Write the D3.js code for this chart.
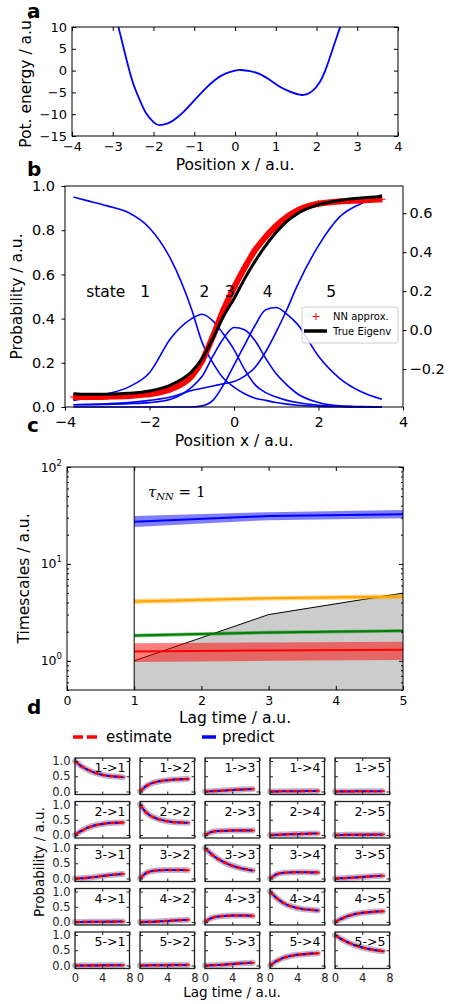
<!DOCTYPE html>
<html>
<head>
<meta charset="utf-8">
<script src="https://cdn.jsdelivr.net/npm/d3@7"></script>
<style>
  body { margin: 0; background: #fff; }
  svg { display: block; }
</style>
</head>
<body>
<div id="fig"></div>
<script>
// ---------- panel a: potential energy ----------
const potX = [-2.86, -2.66, -2.5, -2.34, -2.18, -2.0, -1.85, -1.65, -1.5, -1.25, -1.0, -0.75, -0.5, -0.25, 0.0, 0.15, 0.37, 0.61, 0.86, 1.10, 1.35, 1.64, 1.88, 2.09, 2.25, 2.41, 2.58];
const potE = [10, 2.43, -2.9, -6.7, -9.8, -11.8, -12.5, -12.1, -11.35, -9.35, -6.85, -4.35, -2.2, -0.75, 0.0, 0.14, -0.12, -0.8, -2.16, -3.7, -4.83, -5.6, -4.83, -2.5, 0.9, 5.3, 10];

// ---------- panel b: memberships and eigenvector ----------
const posX   = [-3.8, -3.5, -3, -2.5, -2, -1.5, -1, -0.75, -0.5, -0.25, 0, 0.25, 0.5, 0.75, 1, 1.25, 1.5, 2, 2.5, 3, 3.5];
const state1 = [0.95, 0.935, 0.91, 0.88, 0.81, 0.67, 0.44, 0.29, 0.20, 0.13, 0.09, 0.06, 0.04, 0.03, 0.02, 0.013, 0.008, 0.003, 0.001, 0, 0];
const state2 = [0.03, 0.04, 0.06, 0.09, 0.155, 0.31, 0.40, 0.42, 0.39, 0.33, 0.26, 0.17, 0.10, 0.065, 0.045, 0.03, 0.02, 0.008, 0.003, 0.001, 0];
const state3 = [0.01, 0.01, 0.012, 0.015, 0.02, 0.035, 0.09, 0.14, 0.23, 0.31, 0.36, 0.35, 0.30, 0.22, 0.15, 0.10, 0.06, 0.02, 0.005, 0.002, 0];
const state4 = [0, 0, 0, 0, 0, 0, 0, 0.005, 0.03, 0.10, 0.19, 0.28, 0.37, 0.44, 0.45, 0.42, 0.375, 0.23, 0.13, 0.07, 0.035];
const state5 = [0.01, 0.012, 0.015, 0.02, 0.03, 0.045, 0.075, 0.085, 0.095, 0.105, 0.115, 0.14, 0.18, 0.25, 0.34, 0.44, 0.55, 0.73, 0.86, 0.92, 0.96];
const stateNames  = ['1', '2', '3', '4', '5'];
const stateLabelX = [-2.1, -0.7, -0.1, 0.8, 2.3];
// eigenvector values on the right axis
const eigTrue = [-0.327, -0.330, -0.329, -0.325, -0.313, -0.282, -0.213, -0.145, -0.043, 0.070, 0.161, 0.263, 0.354, 0.434, 0.502, 0.558, 0.598, 0.644, 0.666, 0.678, 0.686];
const eigNN   = [-0.344, -0.344, -0.342, -0.338, -0.329, -0.304, -0.236, -0.157, -0.032, 0.104, 0.218, 0.320, 0.411, 0.479, 0.536, 0.581, 0.615, 0.649, 0.661, 0.666, 0.672];

// ---------- panel c: implied timescales ----------
const lagTimes = [1, 3, 5];
const lagLine  = [1, 3, 5];
const nnLag = 1;
const tsBlue   = [27.3, 31.2, 32.5], tsBlueLo   = [24.1, 28.3, 29.6], tsBlueHi   = [31.2, 34.2, 36.0];
const tsOrange = [4.09, 4.43, 4.60], tsOrangeLo = [3.85, 4.20, 4.35], tsOrangeHi = [4.35, 4.65, 4.85];
const tsGreen  = [1.82, 1.96, 2.04], tsGreenLo  = [1.74, 1.88, 1.96], tsGreenHi  = [1.90, 2.04, 2.12];
const tsRed    = [1.25, 1.28, 1.30], tsRedLo    = [0.97, 1.00, 1.02], tsRedHi    = [1.52, 1.55, 1.57];

// ---------- panel d: Chapman-Kolmogorov test ----------
const ckLag = [0, 1, 2, 3, 4, 5, 6, 7];
const ckFrom1 = [
  [1.0, 0.82, 0.70, 0.61, 0.55, 0.51, 0.49, 0.47],
  [0, 0.19, 0.29, 0.34, 0.37, 0.39, 0.40, 0.41],
  [0, 0.01, 0.02, 0.035, 0.05, 0.06, 0.07, 0.08],
  [0, 0.002, 0.005, 0.008, 0.01, 0.012, 0.015, 0.018],
  [0, 0.001, 0.002, 0.003, 0.005, 0.006, 0.008, 0.01]
];
const ckFrom2 = [
  [0, 0.14, 0.25, 0.32, 0.36, 0.39, 0.40, 0.41],
  [1.0, 0.72, 0.58, 0.50, 0.45, 0.42, 0.41, 0.40],
  [0, 0.10, 0.13, 0.14, 0.145, 0.15, 0.15, 0.15],
  [0, 0.005, 0.015, 0.025, 0.03, 0.04, 0.045, 0.05],
  [0, 0.002, 0.005, 0.008, 0.01, 0.01, 0.012, 0.012]
];
const ckFrom3 = [
  [0, 0.005, 0.025, 0.05, 0.08, 0.11, 0.13, 0.15],
  [0, 0.19, 0.25, 0.27, 0.28, 0.28, 0.28, 0.27],
  [1.0, 0.79, 0.63, 0.51, 0.42, 0.35, 0.30, 0.26],
  [0, 0.14, 0.19, 0.20, 0.205, 0.205, 0.20, 0.20],
  [0, 0.005, 0.02, 0.035, 0.05, 0.065, 0.08, 0.09]
];
const ckFrom4 = [
  [0, 0.001, 0.003, 0.005, 0.008, 0.01, 0.012, 0.015],
  [0, 0.003, 0.01, 0.02, 0.035, 0.05, 0.06, 0.07],
  [0, 0.13, 0.18, 0.20, 0.21, 0.21, 0.21, 0.20],
  [1.0, 0.78, 0.62, 0.52, 0.46, 0.42, 0.40, 0.38],
  [0, 0.11, 0.20, 0.26, 0.30, 0.32, 0.34, 0.35]
];
const ckFrom5 = [
  [0, 0, 0.001, 0.002, 0.003, 0.004, 0.005, 0.006],
  [0, 0.002, 0.005, 0.008, 0.01, 0.013, 0.015, 0.018],
  [0, 0.005, 0.015, 0.03, 0.05, 0.065, 0.08, 0.09],
  [0, 0.15, 0.25, 0.31, 0.35, 0.37, 0.39, 0.40],
  [1.0, 0.86, 0.75, 0.66, 0.59, 0.54, 0.50, 0.47]
];
const ckErr = [
  [0.02, 0.04, 0.02, 0.01, 0.03],
  [0.04, 0.02, 0.01, 0.01, 0.01],
  [0.03, 0.02, 0.01, 0.01, 0.01],
  [0.01, 0.01, 0.01, 0.03, 0.04],
  [0.02, 0.01, 0.01, 0.04, 0.04]
];

// ====================================================================
const FONT = 'DejaVu Sans';
const svg = d3.select('#fig').append('svg')
  .attr('width', 451)
  .attr('height', 1004)
  .attr('font-family', FONT);

function fixAxis(sel, size, color) {
  sel.attr('font-size', size).attr('font-family', FONT);
  sel.select('.domain').remove();
  sel.selectAll('text').attr('fill', color || '#000');
  sel.selectAll('line').attr('stroke', color || '#000');
}

function panelLabel(txt, x, y) {
  svg.append('text').attr('x', x).attr('y', y)
    .attr('font-size', 20).attr('font-weight', 'bold').text(txt);
}

function yLabel(txt, x, y, size) {
  svg.append('text')
    .attr('transform', `translate(${x},${y}) rotate(-90)`)
    .attr('text-anchor', 'middle').attr('font-size', size).text(txt);
}

function xLabel(txt, x, y, size) {
  svg.append('text').attr('x', x).attr('y', y)
    .attr('text-anchor', 'middle').attr('font-size', size).text(txt);
}

// ---------------- panel a ----------------
const aBox = { x: 72, y: 27, w: 326, h: 109 };
const ga = svg.append('g').attr('transform', `translate(${aBox.x},${aBox.y})`);
const ax = d3.scaleLinear().domain([-4, 4]).range([0, aBox.w]);
const ay = d3.scaleLinear().domain([-15, 10]).range([aBox.h, 0]);

ga.append('clipPath').attr('id', 'clipA')
  .append('rect').attr('width', aBox.w).attr('height', aBox.h);

ga.append('path')
  .datum(potX.map((x, i) => [x, potE[i]]))
  .attr('clip-path', 'url(#clipA)')
  .attr('fill', 'none')
  .attr('stroke', '#0000ff')
  .attr('stroke-width', 1.8)
  .attr('d', d3.line().x(d => ax(d[0])).y(d => ay(d[1])).curve(d3.curveNatural));

ga.append('g').attr('transform', `translate(0,${aBox.h})`)
  .call(d3.axisBottom(ax).ticks(8).tickSize(-4).tickPadding(6))
  .call(g => fixAxis(g, 13));
ga.append('g')
  .call(d3.axisTop(ax).ticks(8).tickSize(-4).tickFormat(''))
  .call(g => fixAxis(g, 13));
ga.append('g')
  .call(d3.axisLeft(ay).tickValues([-15, -10, -5, 0, 5, 10]).tickSize(-4).tickPadding(5))
  .call(g => fixAxis(g, 13));
ga.append('g').attr('transform', `translate(${aBox.w},0)`)
  .call(d3.axisRight(ay).tickValues([-15, -10, -5, 0, 5, 10]).tickSize(-4).tickFormat(''))
  .call(g => fixAxis(g, 13));
ga.append('rect').attr('width', aBox.w).attr('height', aBox.h)
  .attr('fill', 'none').attr('stroke', '#000').attr('stroke-width', 1);

yLabel('Pot. energy / a.u.', 31, 81.5, 15.5);
xLabel('Position x / a.u.', 235, 170, 15.5);

// ---------------- panel b ----------------
const bBox = { x: 65, y: 186, w: 338, h: 221 };
const gb = svg.append('g').attr('transform', `translate(${bBox.x},${bBox.y})`);
const bx = d3.scaleLinear().domain([-4, 4]).range([0, bBox.w]);
const by = d3.scaleLinear().domain([0, 1]).range([bBox.h, 0]);
const by2 = d3.scaleLinear().domain([-0.395, 0.74]).range([bBox.h, 0]);

const memberLine = d3.line().x(d => bx(d[0])).y(d => by(d[1])).curve(d3.curveMonotoneX);
[state1, state2, state3, state4, state5].forEach(s => {
  gb.append('path')
    .datum(posX.map((x, i) => [x, s[i]]))
    .attr('fill', 'none')
    .attr('stroke', '#0000ff')
    .attr('stroke-width', 1.6)
    .attr('d', memberLine);
});

const eigLine = d3.line().x(d => bx(d[0])).y(d => by2(d[1])).curve(d3.curveMonotoneX);
gb.append('path')
  .datum(posX.map((x, i) => [x, eigNN[i]]))
  .attr('fill', 'none').attr('stroke', '#ff0000').attr('stroke-width', 6)
  .attr('d', eigLine);
gb.selectAll('.nn').data(posX.map((x, i) => [x, eigNN[i]])).enter()
  .append('path')
  .attr('transform', d => `translate(${bx(d[0])},${by2(d[1])})`)
  .attr('d', 'M-3.5,0H3.5M0,-3.5V3.5')
  .attr('stroke', '#ff0000').attr('stroke-width', 1);
gb.append('path')
  .datum(posX.map((x, i) => [x, eigTrue[i]]))
  .attr('fill', 'none').attr('stroke', '#000').attr('stroke-width', 3)
  .attr('d', eigLine);

gb.append('text').attr('x', bx(-3.5)).attr('y', by(0.5))
  .attr('font-size', 15.5).text('state');
gb.selectAll('.sname').data(stateNames).enter()
  .append('text')
  .attr('x', (d, i) => bx(stateLabelX[i]))
  .attr('y', by(0.5))
  .attr('text-anchor', 'middle')
  .attr('font-size', 15.5)
  .text(d => d);

gb.append('g').attr('transform', `translate(0,${bBox.h})`)
  .call(d3.axisBottom(bx).tickValues([-4, -2, 0, 2, 4]).tickSize(3.5).tickPadding(6))
  .call(g => fixAxis(g, 14.5));
gb.append('g')
  .call(d3.axisLeft(by).tickValues([0, 0.2, 0.4, 0.6, 0.8, 1.0]).tickFormat(d3.format('.1f')).tickSize(3.5).tickPadding(6.5))
  .call(g => fixAxis(g, 14.5));
gb.append('g').attr('transform', `translate(${bBox.w},0)`)
  .call(d3.axisRight(by2).tickValues([-0.2, 0, 0.2, 0.4, 0.6]).tickFormat(d3.format('.1f')).tickSize(3.5).tickPadding(3))
  .call(g => fixAxis(g, 14.5));
gb.append('rect').attr('width', bBox.w).attr('height', bBox.h)
  .attr('fill', 'none').attr('stroke', '#000').attr('stroke-width', 1);

// legend b
const lg = gb.append('g').attr('transform', `translate(${302 - bBox.x},${307 - bBox.y})`);
lg.append('rect').attr('width', 96).attr('height', 36).attr('rx', 2)
  .attr('fill', '#fff').attr('fill-opacity', 0.85).attr('stroke', '#ccc');
lg.append('path').attr('d', 'M10.5,9.5h7M14,6v7').attr('stroke', '#ff0000').attr('stroke-width', 1);
lg.append('text').attr('x', 31).attr('y', 13).attr('font-size', 10).text('NN approx.');
lg.append('line').attr('x1', 2).attr('x2', 25).attr('y1', 24).attr('y2', 24)
  .attr('stroke', '#000').attr('stroke-width', 3.5);
lg.append('text').attr('x', 31).attr('y', 28).attr('font-size', 10).text('True Eigenv');

yLabel('Probability / a.u.', 22, 296.5, 15.5);
xLabel('Position x / a.u.', 234, 446, 15.5);

// ---------------- panel c ----------------
const cBox = { x: 67, y: 467, w: 336, h: 223 };
const gc = svg.append('g').attr('transform', `translate(${cBox.x},${cBox.y})`);
const cx = d3.scaleLinear().domain([0, 5]).range([0, cBox.w]);
const cy = d3.scaleLog().domain([0.5, 100]).range([cBox.h, 0]);

gc.append('path')
  .datum(lagTimes.map((t, i) => [t, lagLine[i]]))
  .attr('fill', '#cccccc')
  .attr('d', d3.area().x(d => cx(d[0])).y0(cBox.h).y1(d => cy(d[1])));
gc.append('path')
  .datum(lagTimes.map((t, i) => [t, lagLine[i]]))
  .attr('fill', 'none').attr('stroke', '#000').attr('stroke-width', 1)
  .attr('d', d3.line().x(d => cx(d[0])).y(d => cy(d[1])));

const tsSets = [
  { v: tsRed, lo: tsRedLo, hi: tsRedHi, c: '#ff0000' },
  { v: tsGreen, lo: tsGreenLo, hi: tsGreenHi, c: '#008000' },
  { v: tsOrange, lo: tsOrangeLo, hi: tsOrangeHi, c: '#ffa500' },
  { v: tsBlue, lo: tsBlueLo, hi: tsBlueHi, c: '#0000ff' }
];
tsSets.forEach(s => {
  gc.append('path')
    .datum(lagTimes.map((t, i) => [t, s.lo[i], s.hi[i]]))
    .attr('fill', s.c).attr('fill-opacity', 0.5)
    .attr('d', d3.area().x(d => cx(d[0])).y0(d => cy(d[1])).y1(d => cy(d[2])));
  gc.append('path')
    .datum(lagTimes.map((t, i) => [t, s.v[i]]))
    .attr('fill', 'none').attr('stroke', s.c).attr('stroke-width', 2)
    .attr('d', d3.line().x(d => cx(d[0])).y(d => cy(d[1])));
});

gc.append('line').attr('x1', cx(nnLag)).attr('x2', cx(nnLag))
  .attr('y1', 0).attr('y2', cBox.h).attr('stroke', '#000').attr('stroke-width', 1);

const tau = gc.append('text').attr('x', 81).attr('y', 29.5)
  .attr('font-family', 'DejaVu Serif').attr('font-size', 15);
tau.append('tspan').attr('font-style', 'italic').text('τ');
tau.append('tspan').attr('font-style', 'italic').attr('font-size', 10).attr('dy', 3).text('NN');
tau.append('tspan').attr('dy', -3).text(' = 1');

const majorY = [1, 10, 100];
const minorY = [];
[0.1, 1, 10].forEach(b => d3.range(2, 10).forEach(k => {
  const v = b * k;
  if (v >= 0.5 && v < 100) minorY.push(v);
}));

gc.append('g').attr('transform', `translate(0,${cBox.h})`)
  .call(d3.axisBottom(cx).ticks(5).tickSize(-4).tickPadding(6))
  .call(g => fixAxis(g, 12.5));
gc.append('g')
  .call(d3.axisTop(cx).ticks(5).tickSize(-4).tickFormat(''))
  .call(g => fixAxis(g, 12.5));
gc.append('g')
  .call(d3.axisLeft(cy).tickValues(majorY).tickSize(-4).tickFormat(''))
  .call(g => fixAxis(g, 12.5));
gc.append('g')
  .call(d3.axisLeft(cy).tickValues(minorY).tickSize(-2).tickFormat(''))
  .call(g => fixAxis(g, 12.5));
gc.append('g').attr('transform', `translate(${cBox.w},0)`)
  .call(d3.axisRight(cy).tickValues(majorY).tickSize(-4).tickFormat(''))
  .call(g => fixAxis(g, 12.5));
gc.append('g').attr('transform', `translate(${cBox.w},0)`)
  .call(d3.axisRight(cy).tickValues(minorY).tickSize(-2).tickFormat(''))
  .call(g => fixAxis(g, 12.5));

majorY.forEach(v => {
  const t = gc.append('text').attr('x', -5).attr('y', cy(v) + 4.5)
    .attr('text-anchor', 'end').attr('font-size', 12.5);
  t.append('tspan').text('10');
  t.append('tspan').attr('font-size', 8.5).attr('dy', -6).text(String(Math.round(Math.log10(v))));
});

gc.append('rect').attr('width', cBox.w).attr('height', cBox.h)
  .attr('fill', 'none').attr('stroke', '#000').attr('stroke-width', 1);

yLabel('Timescales / a.u.', 29, 578.5, 15.5);
xLabel('Lag time / a.u.', 235, 723, 15.5);

// ---------------- panel d ----------------
const ckRows = [ckFrom1, ckFrom2, ckFrom3, ckFrom4, ckFrom5];
const dW = 54.5, dH = 36.5;
const dColX = [75, 140, 205, 270, 335];
const dRowY = [758, 801.5, 845, 888.5, 932];
const dx = d3.scaleLinear().domain([0, 8]).range([0, dW]);
const dy = d3.scaleLinear().domain([-0.1, 1.1]).range([dH, 0]);
const dLine = d3.line().x(d => dx(d[0])).y(d => dy(d[1])).curve(d3.curveMonotoneX);
const DCOL = '#222';

ckRows.forEach((row, i) => {
  row.forEach((vals, j) => {
    const g = svg.append('g').attr('transform', `translate(${dColX[j]},${dRowY[i]})`);
    const pts = ckLag.map((t, k) => [t, vals[k]]);
    const err = ckErr[i][j];

    g.append('path').datum(pts)
      .attr('fill', 'none').attr('stroke', '#bdb6cc').attr('stroke-width', 6)
      .attr('stroke-linecap', 'round').attr('d', dLine);
    g.append('path').datum(pts)
      .attr('fill', 'none').attr('stroke', '#ff0000').attr('stroke-width', 2.6)
      .attr('stroke-dasharray', '5,2.5').attr('d', dLine);
    g.selectAll('.eb').data(pts.slice(1)).enter()
      .append('path')
      .attr('transform', d => `translate(${dx(d[0])},${dy(d[1])})`)
      .attr('d', d => `M0,${dy(-err) - dy(0)}V${dy(err) - dy(0)}M-2,0H2`)
      .attr('stroke', '#ff0000').attr('stroke-width', 1.5);
    g.append('path').datum(pts)
      .attr('fill', 'none').attr('stroke', '#0000ff').attr('stroke-width', 2)
      .attr('stroke-dasharray', '3,4.5').attr('stroke-dashoffset', -5).attr('d', dLine);

    g.append('g').attr('transform', `translate(0,${dH})`)
      .call(d3.axisBottom(dx).tickValues([0, 4, 8]).tickSize(-3).tickPadding(5.5)
        .tickFormat(i === 4 ? d3.format('d') : ''))
      .call(s => fixAxis(s, 11.5, DCOL));
    g.append('g')
      .call(d3.axisTop(dx).tickValues([0, 4, 8]).tickSize(-3).tickFormat(''))
      .call(s => fixAxis(s, 11.5, DCOL));
    g.append('g')
      .call(d3.axisLeft(dy).tickValues([0, 0.5, 1]).tickSize(-3).tickPadding(4.5)
        .tickFormat(j === 0 ? d3.format('.1f') : ''))
      .call(s => fixAxis(s, 11.5, DCOL));
    g.append('g').attr('transform', `translate(${dW},0)`)
      .call(d3.axisRight(dy).tickValues([0, 0.5, 1]).tickSize(-3).tickFormat(''))
      .call(s => fixAxis(s, 11.5, DCOL));
    g.append('rect').attr('width', dW).attr('height', dH)
      .attr('fill', 'none').attr('stroke', DCOL).attr('stroke-width', 1.3);

    g.append('text').attr('x', dW - 4).attr('y', 14)
      .attr('text-anchor', 'end').attr('font-size', 12.5)
      .text(`${i + 1}->${j + 1}`);
  });
});

// legend d
svg.append('line').attr('x1', 73).attr('x2', 97).attr('y1', 737).attr('y2', 737)
  .attr('stroke', '#ff0000').attr('stroke-width', 3.5).attr('stroke-dasharray', '10,4');
svg.append('text').attr('x', 106).attr('y', 742).attr('font-size', 15).text('estimate');
svg.append('line').attr('x1', 202).attr('x2', 216).attr('y1', 737).attr('y2', 737)
  .attr('stroke', '#0000ff').attr('stroke-width', 3.5);
svg.append('text').attr('x', 222).attr('y', 742).attr('font-size', 15).text('predict');

yLabel('Probability / a.u.', 44, 862, 13.5);
xLabel('Lag time / a.u.', 232, 997, 13.5);

// panel letters
panelLabel('a', 27, 18);
panelLabel('b', 27, 176);
panelLabel('c', 27, 432);
panelLabel('d', 27, 714);
</script>
</body>
</html>
